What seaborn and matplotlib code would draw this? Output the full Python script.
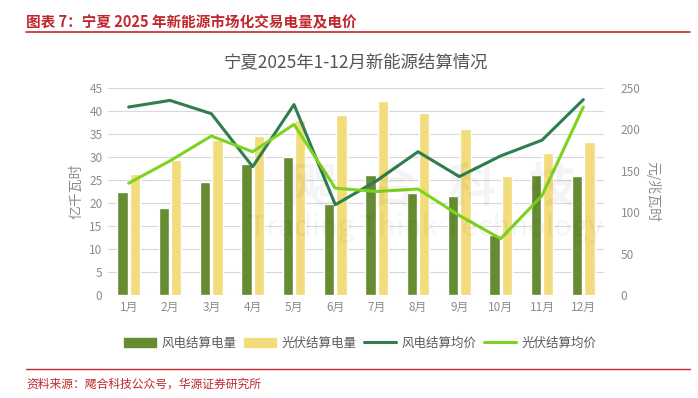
import numpy as np
import pandas as pd
import matplotlib
matplotlib.use("Agg")
import matplotlib.pyplot as plt
import seaborn as sns
from matplotlib.patches import Patch
from matplotlib.lines import Line2D

months = ["1月", "2月", "3月", "4月", "5月", "6月", "7月", "8月", "9月", "10月", "11月", "12月"]
wind_energy = [22.5, 19.0, 24.5, 28.5, 29.9, 19.7, 26.1, 22.1, 21.5, 13.0, 26.0, 25.8]
solar_energy = [26.3, 29.4, 33.7, 34.5, 38.1, 39.2, 42.2, 39.5, 36.1, 25.9, 30.9, 33.3]
wind_price = [227, 235, 219, 155, 230, 109, 138, 173, 143, 168, 187, 236]
solar_price = [135, 162, 192, 173, 206, 129, 125, 128, 96, 68, 120, 227]
series_bar = ["风电结算电量", "光伏结算电量"]
series_line = ["风电结算均价", "光伏结算均价"]

sns.set_theme(style="white")
plt.rcParams['font.family'] = ['Noto Sans CJK SC', 'DejaVu Sans']

c_wind = "#658B33"
c_solar = "#F2DC7B"
c_wp = "#2F7E4E"
c_sp = "#7ED31F"
grey = "#8C8C8C"
red = "#C0272D"

fig = plt.figure(figsize=(6.98, 3.98), dpi=100)

# header
fig.text(26/698, 1-22/398, "图表 7：宁夏 2025 年新能源市场化交易电量及电价", color=red,
         fontsize=10.5, fontweight="bold", va="center", ha="left")
fig.add_artist(Line2D([26/698, 690/698], [1-32/398, 1-32/398], color=red, lw=1.2))
fig.add_artist(Line2D([26/698, 690/698], [1-369/398, 1-369/398], color=red, lw=1.0))
fig.text(26/698, 1-384/398, "资料来源：飔合科技公众号，华源证券研究所", color=red,
         fontsize=8.5, va="center", ha="left")

ax = fig.add_axes([108/698, 1-295/398, 496/698, 207/398])
df = pd.DataFrame({
    "month": months * 2,
    "value": wind_energy + solar_energy,
    "series": [series_bar[0]] * 12 + [series_bar[1]] * 12,
})
sns.barplot(data=df, x="month", y="value", hue="series", palette=[c_wind, c_solar],
            width=0.6, gap=0.18, ax=ax, legend=False, saturation=1)
ax.set_ylim(0, 45)
ax.set_yticks(np.arange(0, 46, 5))
ax.set_xlim(-0.5, 11.5)
ax.grid(axis="y", color="#D9D9D9", lw=0.8)
ax.set_axisbelow(True)
for s in ax.spines.values():
    s.set_visible(False)
ax.set_xlabel("")
ax.set_ylabel("亿千瓦时", color=grey, fontsize=10, labelpad=4)
ax.tick_params(axis="both", colors=grey, labelsize=8.5, length=0, pad=4)
for lab in ax.get_xticklabels():
    lab.set_color(grey)
for lab in ax.get_yticklabels():
    lab.set_color(grey)

ax2 = ax.twinx()
x = np.arange(12)
sns.lineplot(x=x, y=wind_price, color=c_wp, lw=2.2, ax=ax2)
sns.lineplot(x=x, y=solar_price, color=c_sp, lw=2.2, ax=ax2)
ax2.set_ylim(0, 250)
ax2.set_yticks(np.arange(0, 251, 50))
for s in ax2.spines.values():
    s.set_visible(False)
ax2.grid(False)
ax2.tick_params(axis="y", colors=grey, labelsize=8.5, length=0, pad=12)
ax2.set_ylabel("元/兆瓦时", color=grey, fontsize=10, rotation=-90, labelpad=14)

# watermark
fig.text(0.62, 1-188/398, "飔   合   科   技", fontsize=34, color="#000000", alpha=0.045,
         ha="center", va="center", fontweight="bold")
fig.text(0.61, 1-228/398, "Trading Think Technology", fontsize=21, color="#000000",
         alpha=0.04, ha="center", va="center")

ax.set_title("宁夏2025年1-12月新能源结算情况", color="#555555", fontsize=12.5, pad=15)

handles = [Patch(color=c_wind), Patch(color=c_solar),
           Line2D([], [], color=c_wp, lw=2.2), Line2D([], [], color=c_sp, lw=2.2)]
labels = series_bar + series_line
fig.legend(handles, labels, loc="center", bbox_to_anchor=(360/698, 1-343/398), ncol=4,
           frameon=False, fontsize=9, handlelength=2.6, handletextpad=0.4,
           columnspacing=0.6, labelcolor="#595959")

fig.savefig("out.png", dpi=100)
